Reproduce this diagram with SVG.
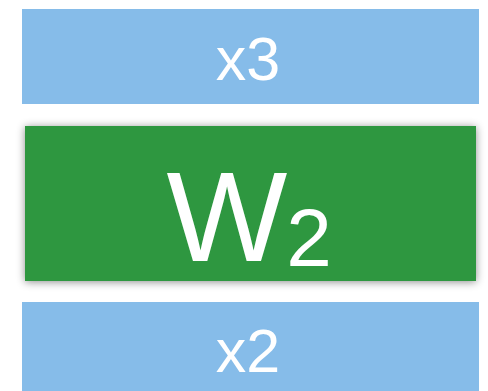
<svg xmlns="http://www.w3.org/2000/svg" width="488" height="391" viewBox="0 0 488 391">
<style>
.blue{fill:#86bce9}
.green{fill:#2e973f}
.t{fill:#ffffff;font-family:"Liberation Sans",Arial,sans-serif;text-anchor:middle}
</style>
<defs>
<filter id="sh" x="-10%" y="-20%" width="120%" height="140%">
<feGaussianBlur in="SourceAlpha" stdDeviation="4"/>
<feOffset dx="0" dy="1" result="b"/>
<feFlood flood-color="#000" flood-opacity="0.45"/>
<feComposite in2="b" operator="in"/>
<feMerge><feMergeNode/><feMergeNode in="SourceGraphic"/></feMerge>
</filter>
</defs>
<rect width="488" height="391" fill="#ffffff"/>
<g id="x3">
<rect class="blue" x="22" y="9" width="457" height="95"/>
<text class="t" x="248" y="80" font-size="61">x3</text>
</g>
<g id="W2">
<rect class="green" x="25" y="126" width="451" height="155" filter="url(#sh)"/>
<text class="t" x="227" y="261" font-size="128">W</text>
<text class="t" x="309" y="266" font-size="82">2</text>
</g>
<g id="x2">
<rect class="blue" x="22" y="302" width="457" height="95"/>
<text class="t" x="248" y="372" font-size="61">x2</text>
</g>
<g id="connectors"></g>
</svg>
